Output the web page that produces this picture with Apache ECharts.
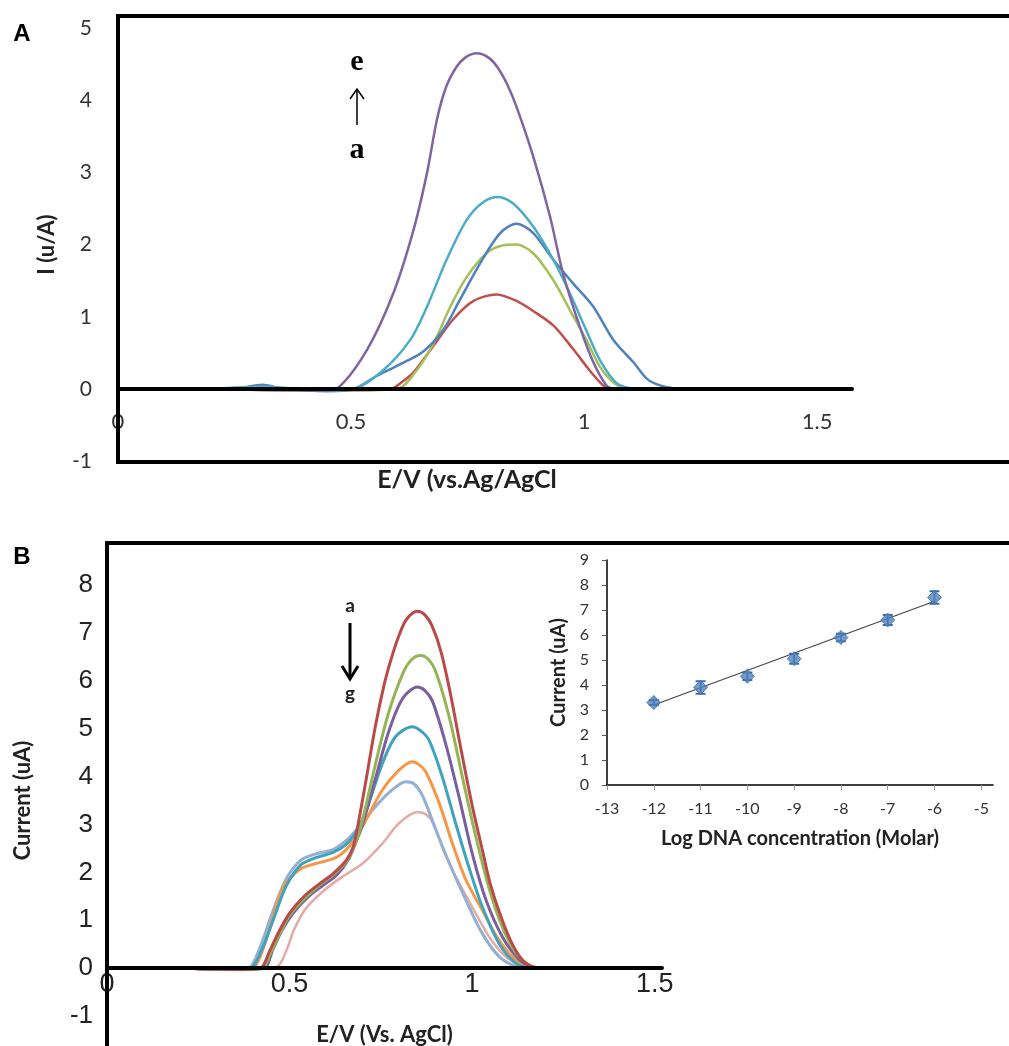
<!DOCTYPE html>
<html><head><meta charset="utf-8">
<script src="https://cdn.jsdelivr.net/npm/echarts@6/dist/echarts.min.js"></script>
<style>html,body{margin:0;padding:0;background:#fff;}#c{width:1009px;height:1046px;}</style>
</head><body><div id="c"></div>
<script>
// ---------- Panel A: DPV curves a..e (E/V, I uA) ----------
const aCurveA = [[0.2,0],[0.45,-0.02],[0.584,0],[0.61,0.1],[0.634,0.23],[0.677,0.6],[0.72,0.97],[0.763,1.22],[0.812,1.31],[0.855,1.22],[0.891,1.08],[0.934,0.88],[0.977,0.55],[1.013,0.25],[1.041,0.05],[1.055,0]];
const aCurveB = [[0.2,0],[0.45,-0.02],[0.598,0],[0.641,0.26],[0.677,0.63],[0.713,1.14],[0.748,1.55],[0.791,1.88],[0.827,1.99],[0.855,2.0],[0.891,1.88],[0.934,1.51],[0.97,1.09],[1.005,0.68],[1.034,0.31],[1.063,0.09],[1.091,0]];
const aCurveC = [[0.2,0],[0.26,0.01],[0.31,0.06],[0.35,0.01],[0.45,-0.03],[0.505,0],[0.555,0.18],[0.605,0.34],[0.655,0.52],[0.698,0.82],[0.734,1.24],[0.777,1.74],[0.82,2.16],[0.855,2.29],[0.891,2.16],[0.934,1.79],[0.977,1.46],[1.02,1.14],[1.063,0.68],[1.106,0.37],[1.135,0.14],[1.163,0.05],[1.2,0]];
const aCurveD = [[0.2,0],[0.31,0.03],[0.45,-0.02],[0.505,0],[0.569,0.26],[0.627,0.68],[0.663,1.14],[0.705,1.79],[0.748,2.34],[0.784,2.59],[0.816,2.66],[0.848,2.57],[0.891,2.25],[0.934,1.79],[0.97,1.32],[1.005,0.81],[1.034,0.4],[1.07,0.08],[1.106,0]];
const aCurveE = [[0.2,0],[0.45,-0.02],[0.469,0],[0.534,0.54],[0.591,1.33],[0.634,2.2],[0.663,2.99],[0.685,3.75],[0.705,4.2],[0.725,4.45],[0.745,4.59],[0.77,4.65],[0.795,4.59],[0.815,4.45],[0.835,4.22],[0.855,3.91],[0.891,3.22],[0.927,2.39],[0.955,1.6],[0.991,0.86],[1.02,0.37],[1.048,0.05],[1.063,0]];
const aTicksX = [0, 0.5, 1, 1.5];

// ---------- Panel B: DPV curves a..g ----------
const bCurveA = [[0.2,0],[0.36,-0.03],[0.42,0],[0.445,0.35],[0.47,0.75],[0.5,1.15],[0.54,1.5],[0.58,1.75],[0.62,1.98],[0.655,2.25],[0.675,2.55],[0.69,3.1],[0.71,3.95],[0.735,5.05],[0.76,5.95],[0.78,6.5],[0.8,6.95],[0.82,7.28],[0.85,7.45],[0.87,7.38],[0.89,7.15],[0.915,6.6],[0.94,5.75],[0.97,4.55],[1.0,3.4],[1.03,2.4],[1.05,1.75],[1.08,1.05],[1.11,0.5],[1.14,0.15],[1.17,0.02],[1.2,0]];
const bCurveB = [[0.2,0],[0.36,-0.03],[0.425,0],[0.45,0.35],[0.475,0.75],[0.5,1.1],[0.54,1.45],[0.58,1.72],[0.62,1.95],[0.655,2.22],[0.68,2.6],[0.7,3.1],[0.735,4.25],[0.77,5.3],[0.81,6.15],[0.835,6.45],[0.86,6.53],[0.88,6.45],[0.9,6.2],[0.937,5.25],[0.973,4.0],[1.01,2.75],[1.047,1.65],[1.083,0.85],[1.12,0.32],[1.16,0.05],[1.19,0]];
const bCurveC = [[0.2,0],[0.36,-0.03],[0.43,0],[0.455,0.4],[0.48,0.8],[0.51,1.15],[0.55,1.48],[0.59,1.72],[0.63,1.95],[0.66,2.25],[0.68,2.6],[0.7,3.0],[0.735,3.95],[0.772,4.95],[0.809,5.62],[0.85,5.87],[0.87,5.8],[0.891,5.58],[0.927,4.7],[0.964,3.58],[1.0,2.4],[1.038,1.42],[1.083,0.65],[1.13,0.17],[1.17,0]];
const bCurveD = [[0.2,0],[0.36,-0.03],[0.395,0],[0.425,0.4],[0.455,1.0],[0.49,1.7],[0.53,2.15],[0.57,2.3],[0.62,2.42],[0.66,2.62],[0.69,2.95],[0.717,3.44],[0.754,4.27],[0.79,4.83],[0.836,5.04],[0.86,4.95],[0.882,4.76],[0.918,4.0],[0.955,3.02],[0.991,2.11],[1.028,1.28],[1.074,0.51],[1.12,0.1],[1.16,0]];
const bCurveE = [[0.2,0],[0.36,-0.03],[0.4,0],[0.425,0.35],[0.45,0.95],[0.48,1.65],[0.525,2.05],[0.57,2.18],[0.625,2.3],[0.662,2.53],[0.699,2.95],[0.754,3.72],[0.799,4.13],[0.836,4.31],[0.855,4.25],[0.873,4.1],[0.91,3.44],[0.946,2.6],[0.983,1.84],[1.028,1.21],[1.074,0.58],[1.12,0.17],[1.17,0]];
const bCurveF = [[0.2,0],[0.36,-0.03],[0.39,0],[0.42,0.45],[0.45,1.1],[0.49,1.85],[0.53,2.25],[0.57,2.38],[0.62,2.48],[0.66,2.7],[0.69,2.95],[0.735,3.37],[0.781,3.72],[0.818,3.89],[0.84,3.85],[0.864,3.6],[0.9,2.9],[0.937,2.2],[0.983,1.42],[1.028,0.72],[1.074,0.24],[1.12,0.03],[1.15,0]];
const bCurveG = [[0.2,0],[0.36,-0.03],[0.45,-0.01],[0.47,0.05],[0.485,0.25],[0.498,0.5],[0.512,0.8],[0.542,1.22],[0.588,1.58],[0.643,1.9],[0.699,2.18],[0.754,2.6],[0.799,3.02],[0.85,3.26],[0.875,3.2],[0.895,3.0],[0.918,2.53],[0.955,1.91],[1.0,1.28],[1.047,0.65],[1.092,0.24],[1.138,0.03],[1.17,0]];
const bTicksX = [0, 0.5, 1, 1.5];

// ---------- Inset: calibration ----------
const logConc = [-12, -11, -10, -9, -8, -7, -6];
const currentMean = [3.3, 3.9, 4.35, 5.05, 5.9, 6.6, 7.5];
const currentErr = [0.1, 0.25, 0.15, 0.2, 0.15, 0.2, 0.25];
const trendX = [-12, -6];
const trendY = [3.2, 7.35];
const insetTicksX = [-13, -12, -11, -10, -9, -8, -7, -6, -5];

const chart = echarts.init(document.getElementById('c'), null, {renderer: 'canvas'});

const calibri = 'Lato';
function lineSeries(data, color, width, xi, z) {
  return {type: 'line', xAxisIndex: xi, yAxisIndex: xi, data: data, showSymbol: false, symbol: 'none',
    smooth: 0.3, lineStyle: {color: color, width: width}, itemStyle: {color: color}, z: z || 2, silent: true};
}

const option = {
  animation: false,
  backgroundColor: '#fff',
  grid: [
    {left: 118, top: 28, width: 734, height: 433.2, outerBoundsMode: 'none', containLabel: false},
    {left: 107, top: 585, width: 555, height: 431, outerBoundsMode: 'none', containLabel: false},
    {left: 607, top: 560, width: 386, height: 225, outerBoundsMode: 'none', containLabel: false}
  ],
  xAxis: [
    {gridIndex: 0, type: 'value', min: 0, max: 1.575, interval: 0.5, z: 3,
     axisLine: {show: true, onZero: true, lineStyle: {color: '#000', width: 4}},
     axisTick: {show: false},
     axisLabel: {customValues: aTicksX, margin: -50, fontFamily: calibri, fontSize: 22, color: '#333'},
     splitLine: {show: false},
     name: 'E/V (vs.Ag/AgCl', nameLocation: 'middle', nameGap: 6,
     nameTextStyle: {fontFamily: calibri, fontWeight: 'bold', fontSize: 25, color: '#222', padding: [0, 36, 0, 0]}},
    {gridIndex: 1, type: 'value', min: 0, max: 1.52, interval: 0.5, z: 3,
     axisLine: {show: true, onZero: true, lineStyle: {color: '#000', width: 4}},
     axisTick: {show: false},
     axisLabel: {customValues: bTicksX, margin: -45, fontFamily: 'Liberation Sans', fontSize: 27, color: '#222'},
     splitLine: {show: false},
     name: 'E/V (Vs. AgCl)', nameLocation: 'middle', nameGap: 8,
     nameTextStyle: {fontFamily: calibri, fontWeight: 'bold', fontSize: 22, color: '#222'}},
    {gridIndex: 2, type: 'value', min: -13, max: -4.75, interval: 1, z: 3,
     axisLine: {show: true, onZero: true, lineStyle: {color: '#000', width: 1.5}},
     axisTick: {show: true, customValues: insetTicksX, length: 5, lineStyle: {color: '#999', width: 1}},
     axisLabel: {customValues: insetTicksX, margin: 16, fontFamily: calibri, fontSize: 16, color: '#333'},
     splitLine: {show: false},
     name: 'Log DNA concentration (Molar)', nameLocation: 'middle', nameGap: 44,
     nameTextStyle: {fontFamily: calibri, fontWeight: 'bold', fontSize: 20, color: '#222'}}
  ],
  yAxis: [
    {gridIndex: 0, type: 'value', min: -1, max: 5, interval: 1,
     axisLine: {show: false}, axisTick: {show: false}, splitLine: {show: false},
     axisLabel: {margin: 26, fontFamily: calibri, fontSize: 21, color: '#333'},
     name: 'I (u/A)', nameLocation: 'middle', nameGap: 60,
     nameTextStyle: {fontFamily: calibri, fontWeight: 'bold', fontSize: 22, color: '#222'}},
    {gridIndex: 1, type: 'value', min: -1, max: 8, interval: 1,
     axisLine: {show: false}, axisTick: {show: false}, splitLine: {show: false},
     axisLabel: {margin: 14, fontFamily: 'Liberation Sans', fontSize: 26, color: '#222'},
     name: 'Current (uA)', nameLocation: 'middle', nameGap: 73,
     nameTextStyle: {fontFamily: calibri, fontWeight: 'bold', fontSize: 22, color: '#222'}},
    {gridIndex: 2, type: 'value', min: 0, max: 9, interval: 1,
     axisLine: {show: true, lineStyle: {color: '#000', width: 1.5}},
     axisTick: {show: true, length: 5, lineStyle: {color: '#555', width: 1}},
     splitLine: {show: false},
     axisLabel: {margin: 18, fontFamily: calibri, fontSize: 16, color: '#333'},
     name: 'Current (uA)', nameLocation: 'middle', nameGap: 38,
     nameTextStyle: {fontFamily: calibri, fontWeight: 'bold', fontSize: 20, color: '#222'}}
  ],
  series: [
    lineSeries(aCurveA, '#C0504D', 2.5, 0),
    lineSeries(aCurveB, '#A5C05A', 2.5, 0),
    lineSeries(aCurveC, '#4F81BD', 2.5, 0),
    lineSeries(aCurveD, '#4BACC6', 2.5, 0),
    lineSeries(aCurveE, '#8064A2', 2.5, 0),

    lineSeries(bCurveG, '#E3AAA6', 2.5, 1),
    lineSeries(bCurveF, '#93AFD3', 3, 1),
    lineSeries(bCurveE, '#F79646', 3, 1),
    lineSeries(bCurveD, '#3FA3BE', 3, 1),
    lineSeries(bCurveC, '#7A5F9E', 3, 1),
    lineSeries(bCurveB, '#93B556', 3, 1),
    lineSeries(bCurveA, '#BA4A47', 3, 1),

    {type: 'line', xAxisIndex: 2, yAxisIndex: 2, data: trendX.map((x, i) => [x, trendY[i]]),
     showSymbol: false, symbol: 'none', lineStyle: {color: '#444', width: 1.2}, z: 2, silent: true},
    {type: 'custom', xAxisIndex: 2, yAxisIndex: 2, z: 3, silent: true,
     data: logConc.map((x, i) => [x, currentMean[i], currentErr[i]]),
     renderItem: function (params, api) {
       const x = api.value(0), y = api.value(1), e = api.value(2);
       const t = api.coord([x, y + e]), b = api.coord([x, y - e]);
       const st = {stroke: '#3C6AA8', lineWidth: 2};
       return {type: 'group', children: [
         {type: 'line', shape: {x1: t[0], y1: t[1], x2: b[0], y2: b[1]}, style: st},
         {type: 'line', shape: {x1: t[0] - 5, y1: t[1], x2: t[0] + 5, y2: t[1]}, style: st},
         {type: 'line', shape: {x1: b[0] - 5, y1: b[1], x2: b[0] + 5, y2: b[1]}, style: st}
       ]};
     }},
    {type: 'scatter', xAxisIndex: 2, yAxisIndex: 2, z: 4, silent: true,
     data: logConc.map((x, i) => [x, currentMean[i]]),
     symbol: 'diamond', symbolSize: 14, itemStyle: {color: '#4F81BD', borderColor: '#3F6FAA', borderWidth: 1}}
  ],
  graphic: [
    // frames
    {type: 'line', z: 100, shape: {x1: 118, y1: 16, x2: 1015, y2: 16}, style: {stroke: '#000', lineWidth: 4}},
    {type: 'line', z: 100, shape: {x1: 118, y1: 14, x2: 118, y2: 464}, style: {stroke: '#000', lineWidth: 4}},
    {type: 'line', z: 100, shape: {x1: 118, y1: 462, x2: 1015, y2: 462}, style: {stroke: '#000', lineWidth: 4}},
    {type: 'line', z: 100, shape: {x1: 107, y1: 543, x2: 1015, y2: 543}, style: {stroke: '#000', lineWidth: 4}},
    {type: 'line', z: 100, shape: {x1: 107, y1: 541, x2: 107, y2: 1050}, style: {stroke: '#000', lineWidth: 4}},
    // panel letters
    {type: 'text', z: 100, x: 22, y: 34, style: {text: 'A', font: 'bold 24px "Liberation Sans"', fill: '#000', align: 'center', verticalAlign: 'middle'}},
    {type: 'text', z: 100, x: 22, y: 557, style: {text: 'B', font: 'bold 24px "Liberation Sans"', fill: '#000', align: 'center', verticalAlign: 'middle'}},
    // annotation A
    {type: 'text', z: 100, x: 357, y: 62, style: {text: 'e', font: 'bold 30px "Liberation Serif"', fill: '#000', align: 'center', verticalAlign: 'middle'}},
    {type: 'text', z: 100, x: 357, y: 150, style: {text: 'a', font: 'bold 30px "Liberation Serif"', fill: '#000', align: 'center', verticalAlign: 'middle'}},
    {type: 'line', z: 100, shape: {x1: 357, y1: 125, x2: 357, y2: 89}, style: {stroke: '#000', lineWidth: 1.5}},
    {type: 'polyline', z: 100, shape: {points: [[350, 99], [357, 89], [364, 99]]}, style: {stroke: '#000', lineWidth: 1.5, fill: null}},
    // annotation B
    {type: 'text', z: 100, x: 350, y: 606, style: {text: 'a', font: 'bold 19px Lato', fill: '#222', align: 'center', verticalAlign: 'middle'}},
    {type: 'text', z: 100, x: 350, y: 694, style: {text: 'g', font: 'bold 19px Lato', fill: '#222', align: 'center', verticalAlign: 'middle'}},
    {type: 'line', z: 100, shape: {x1: 350, y1: 623, x2: 350, y2: 679}, style: {stroke: '#000', lineWidth: 3}},
    {type: 'polyline', z: 100, shape: {points: [[342, 666], [350, 679], [358, 666]]}, style: {stroke: '#000', lineWidth: 3, fill: null}}
  ]
};
chart.setOption(option);
</script>
</body></html>
